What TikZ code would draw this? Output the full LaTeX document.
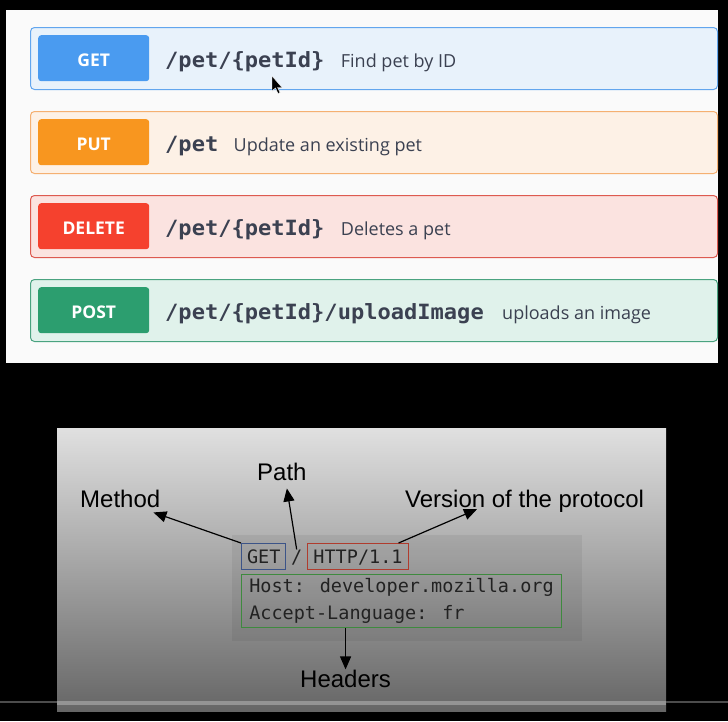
\documentclass[tikz,border=0pt]{standalone}
\usepackage{fontspec}
\setmainfont{Liberation Sans}
\newfontfamily\uifont{Open Sans}
\newfontfamily\pathmono[FakeStretch=1.05]{DejaVu Sans Mono}
\newfontfamily\codemono{DejaVu Sans Mono}
\usetikzlibrary{positioning,arrows.meta}

\definecolor{ink}{HTML}{3B4151}
\definecolor{sheet}{HTML}{FAFAFA}
\definecolor{getline}{HTML}{62A6EE}
\definecolor{getfill}{HTML}{E8F2FB}
\definecolor{getbtn}{HTML}{4A9BF0}
\definecolor{putline}{HTML}{F5B071}
\definecolor{putfill}{HTML}{FDF1E6}
\definecolor{putbtn}{HTML}{F8961F}
\definecolor{delline}{HTML}{DD5A50}
\definecolor{delfill}{HTML}{FBE3E0}
\definecolor{delbtn}{HTML}{F5412E}
\definecolor{postline}{HTML}{4AA380}
\definecolor{postfill}{HTML}{E0F2EB}
\definecolor{postbtn}{HTML}{2C9E6F}
\definecolor{paneltop}{HTML}{E0E0E0}
\definecolor{panelbot}{HTML}{666666}
\definecolor{codeink}{HTML}{222222}
\definecolor{getedge}{HTML}{3C5488}
\definecolor{httpedge}{HTML}{B03C2E}
\definecolor{hdredge}{HTML}{3E8A3E}

\tikzset{
  row/.style={anchor=north west, minimum width=687pt, minimum height=62pt,
    rounded corners=4pt, line width=1pt, inner sep=0pt},
  btn/.style={anchor=north west, minimum width=111pt, minimum height=46pt,
    rounded corners=3pt, inner sep=0pt, text=white,
    font=\uifont\bfseries\fontsize{17.5}{20}\selectfont,
    text height=17pt, text depth=0pt},
  urlpath/.style={anchor=base west, inner sep=0pt, text=ink,
    font=\pathmono\bfseries\fontsize{21}{25}\selectfont},
  desc/.style={inner sep=0pt, text=ink, font=\uifont\fontsize{18}{22}\selectfont},
  code/.style={inner sep=0pt, text=codeink, font=\codemono\fontsize{18.5}{27}\selectfont,
    text height=13.7pt, text depth=0pt},
  codebox/.style={code, inner xsep=5.5pt, minimum height=26pt, line width=1pt},
  lbl/.style={anchor=base west, inner sep=0pt, font=\fontsize{24}{28}\selectfont},
  arr/.style={-{Triangle[length=13pt,width=11pt]}, line width=1.2pt}
}

\begin{document}
\begin{tikzpicture}[x=1pt,y=-1pt]
  \useasboundingbox (0,0) rectangle (728,721);
  \fill[black] (0,0) rectangle (728,721);

  % swagger list
  \fill[sheet] (6,10) rectangle (718,363);
  \node[row, draw=getline, fill=getfill] (getrow) at (30,27) {};
  \node[row, draw=putline, fill=putfill] (putrow) at (30,111) {};
  \node[row, draw=delline, fill=delfill] (delrow) at (30,195) {};
  \node[row, draw=postline, fill=postfill] (postrow) at (30,279) {};

  \node[btn, fill=getbtn] (getbtn) at (38,35) {GET};
  \node[btn, fill=putbtn] (putbtn) at (38,119) {PUT};
  \node[btn, fill=delbtn] (delbtn) at (38,203) {DELETE};
  \node[btn, fill=postbtn] (postbtn) at (38,287) {POST};

  \node[urlpath] (getpath) at (165,67) {/pet/\{petId\}};
  \node[urlpath] (putpath) at (165,151) {/pet};
  \node[urlpath] (delpath) at (165,235) {/pet/\{petId\}};
  \node[urlpath] (postpath) at (165,319) {/pet/\{petId\}/uploadImage};

  \node[desc, base right=16pt of getpath] (getdesc) {Find pet by ID};
  \node[desc, base right=15pt of putpath] (putdesc) {Update an existing pet};
  \node[desc, base right=16pt of delpath] (deldesc) {Deletes a pet};
  \node[desc, base right=18pt of postpath] (postdesc) {uploads an image};

  % mouse pointer
  \fill[black, draw=white, line width=0.4pt] (272,76) -- (272,91) -- (275.5,88) -- (278,93.5)
    -- (280,92.5) -- (277.5,87.5) -- (282,87.5) -- cycle;

  % http request
  \shade[top color=paneltop, bottom color=panelbot] (57,428) rectangle (666,711);
  \fill[black, opacity=.06] (232,535) rectangle (582,641);
  \fill[black!70] (0,701) rectangle (728,702.5);
  \fill[black!42] (57,700.5) rectangle (666,704.5);

  \node[codebox, draw=getedge, anchor=north west] (reqget) at (241,543) {GET};
  \node[code, right=4.5pt of reqget] (slash) {/};
  \node[codebox, draw=httpedge, right=5pt of slash] (reqver) {HTTP/1.1};
  \node[inner xsep=5.5pt, inner ysep=3pt, text=codeink, draw=hdredge, line width=1pt,
    align=left, anchor=north west, minimum width=320pt, minimum height=53pt,
    font=\codemono\fontsize{18.5}{27}\selectfont] (reqhdr) at (241,574)
    {Host: developer.mozilla.org\\Accept-Language: fr};

  \node[lbl] (method) at (80,507) {Method};
  \node[lbl] (path) at (257,480) {Path};
  \node[lbl] (version) at (405,507) {Version of the protocol};
  \node[lbl] (headers) at (300,687) {Headers};

  \draw[arr] (reqget.north west) -- ([xshift=-7pt,yshift=-5pt]method.south east);
  \draw[arr] (slash.north) -- ([xshift=5pt,yshift=-8pt]path.south);
  \draw[arr] ([xshift=-10pt]reqver.north east) -- ([xshift=72pt,yshift=3pt]version.south west);
  \draw[arr] (reqhdr.south -| headers.north) -- (headers.north);
\end{tikzpicture}
\end{document}
